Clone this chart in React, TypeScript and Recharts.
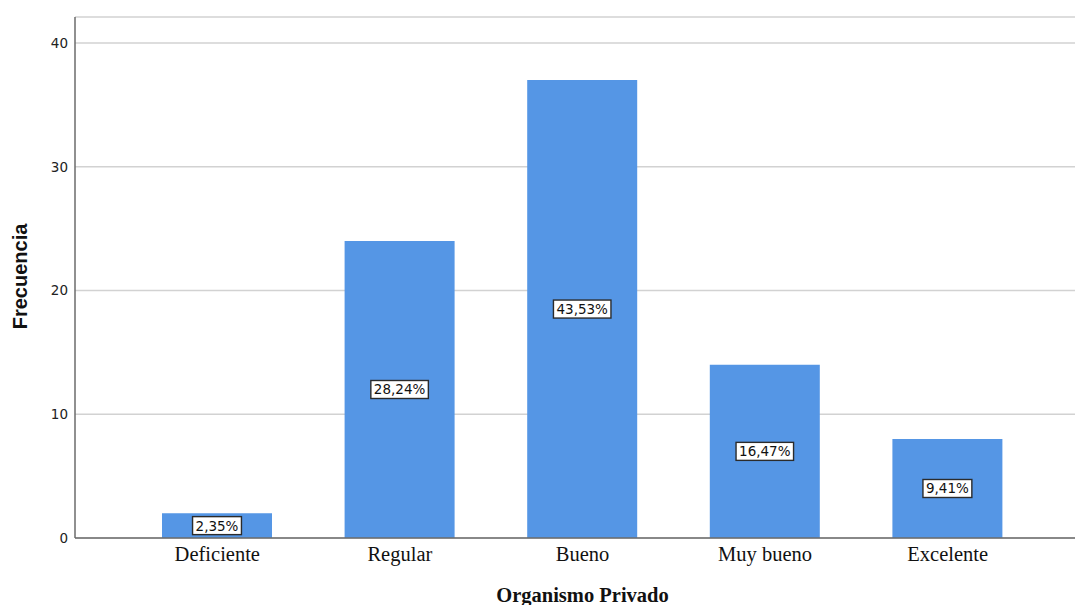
import React from 'react';
import { BarChart, Bar, XAxis, YAxis, CartesianGrid, LabelList, Label } from 'recharts';

const categories = ['Deficiente', 'Regular', 'Bueno', 'Muy bueno', 'Excelente'];
const counts = [2, 24, 37, 14, 8];
const percentLabels = ['2,35%', '28,24%', '43,53%', '16,47%', '9,41%'];
const yTicks = [0, 10, 20, 30, 40];

const data = categories.map((name, i) => ({
  name,
  count: counts[i],
  pct: percentLabels[i],
}));

const BoxLabel = (props: any) => {
  const { x, y, width, height, value } = props;
  const cx = Number(x) + Number(width) / 2;
  const cy = Number(y) + Number(height) / 2;
  const text = String(value);
  // rough DejaVu Sans width at 13.5px
  let w = 0;
  for (const ch of text) {
    if (ch === ',') w += 4.3;
    else if (ch === '%') w += 12.8;
    else w += 8.6;
  }
  const bw = w + 6;
  return (
    <g>
      <rect x={cx - bw / 2} y={cy - 9} width={bw} height={18} fill="#ffffff" stroke="#2b2b2b" strokeWidth={1.4} />
      <text
        x={cx}
        y={cy + 5}
        textAnchor="middle"
        fontFamily="DejaVu Sans, sans-serif"
        fontSize={13.5}
        fill="#111"
      >
        {text}
      </text>
    </g>
  );
};

const YTitle = (props: any) => {
  const { viewBox } = props;
  const cy = viewBox.y + viewBox.height / 2;
  return (
    <text
      x={0}
      y={0}
      transform={`translate(27, ${cy - 1}) rotate(-90)`}
      textAnchor="middle"
      fontFamily="Liberation Sans, Arial, sans-serif"
      fontWeight="bold"
      fontSize={20}
      fill="#111"
    >
      Frecuencia
    </text>
  );
};

const XTitle = () => (
  <text
    x={582.5}
    y={602}
    textAnchor="middle"
    fontFamily="Liberation Serif, Times New Roman, serif"
    fontWeight="bold"
    fontSize={20.5}
    fill="#111"
  >
    Organismo Privado
  </text>
);

export default function App() {
  return (
    <div style={{ position: 'absolute', left: 0, top: 0, background: '#fff' }}>
      <BarChart
        width={1075}
        height={605}
        data={data}
        margin={{ top: 17, right: 0, bottom: 0, left: 0 }}
      >
        <CartesianGrid vertical={false} stroke="#d2d2d2" strokeWidth={1.5} />
        <XAxis
          dataKey="name"
          height={67}
          padding={{ left: 51, right: 36 }}
          axisLine={{ stroke: '#6b6b6b', strokeWidth: 1.5 }}
          tickLine={false}
          tickSize={0}
          tickMargin={8}
          tick={{ fontFamily: 'Liberation Serif, Times New Roman, serif', fontSize: 20.5, fill: '#111' }}
          interval={0}
        >
          <Label content={<XTitle />} />
        </XAxis>
        <YAxis
          width={75}
          domain={[0, 42.1]}
          ticks={yTicks}
          allowDataOverflow
          axisLine={{ stroke: '#6b6b6b', strokeWidth: 1.5 }}
          tickLine={false}
          tickSize={0}
          tickMargin={7}
          tick={{ fontFamily: 'DejaVu Sans, sans-serif', fontSize: 13.5, fill: '#222' }}
        >
          <Label content={<YTitle />} />
        </YAxis>
        <Bar dataKey="count" fill="#5596e5" barSize={110} isAnimationActive={false}>
          <LabelList dataKey="pct" content={<BoxLabel />} />
        </Bar>
      </BarChart>
    </div>
  );
}
